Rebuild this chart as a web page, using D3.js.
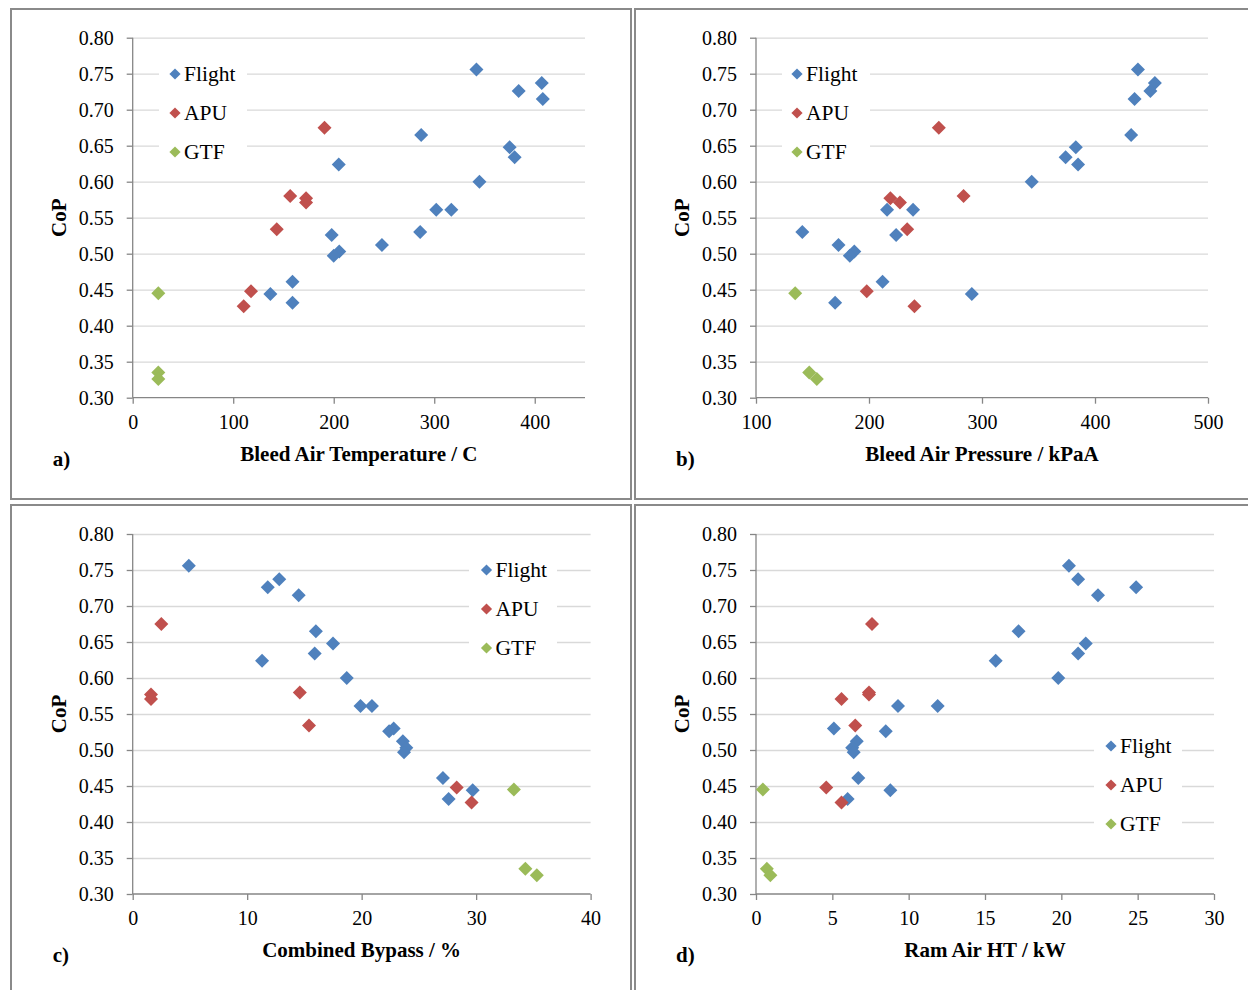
<!DOCTYPE html>
<html>
<head>
<meta charset="utf-8">
<script src="https://cdn.jsdelivr.net/npm/d3@7/dist/d3.min.js"></script>
<style>
    body { margin: 0; background: #fff; }
    svg { display: block; font-family: "Liberation Serif", "Times New Roman", serif; }
    .grid line { stroke: #d9d9d9; stroke-width: 1.3; }
    .grid path { display: none; }
    .axis path, .axis line { stroke: #868686; stroke-width: 1.3; }
    .axis text { font-family: "Liberation Serif", "Times New Roman", serif; font-size: 20px; fill: #000; }
</style>
</head>
<body>
<div id="chart"></div>
<script>
/*global d3*/
(function () {
    "use strict";

    // series
    var seriesNames = ["Flight", "APU", "GTF"],
        seriesColors = ["#4f81bd", "#c0504d", "#9bbb59"];

    // CoP (shared y of every panel)
    var copFlight = [0.756, 0.737, 0.726, 0.715, 0.665, 0.648, 0.634, 0.624, 0.600, 0.561,
            0.561, 0.530, 0.526, 0.512, 0.503, 0.497, 0.461, 0.444, 0.432],
        copAPU = [0.675, 0.580, 0.577, 0.571, 0.534, 0.448, 0.427],
        copGTF = [0.445, 0.335, 0.326];

    // a) bleed air temperature / C
    var tempFlight = [342, 407, 384, 408, 287, 375, 380, 205, 345, 302,
            317, 286, 198, 248, 205.5, 200, 159, 137, 159],
        tempAPU = [190.8, 156.7, 172.5, 172.5, 143.3, 117.7, 110.4],
        tempGTF = [25.5, 25.5, 25.5];

    // b) bleed air pressure / kPaA
    var pressFlight = [438, 453, 449, 435, 432, 383, 374, 385, 344, 216,
            239, 141, 224, 173, 187, 183, 212, 291, 170],
        pressAPU = [261.8, 283.7, 218.9, 227.4, 233.8, 198, 240.2],
        pressGTF = [134.7, 147.1, 153.8];

    // c) combined bypass / %
    var bypassFlight = [4.9, 12.8, 11.8, 14.5, 16.0, 17.5, 15.9, 11.3, 18.7, 19.9,
            20.9, 22.8, 22.4, 23.6, 23.9, 23.7, 27.1, 29.7, 27.6],
        bypassAPU = [2.5, 14.6, 1.6, 1.6, 15.4, 28.3, 29.6],
        bypassGTF = [33.3, 34.3, 35.3];

    // d) ram air HT / kW
    var ramFlight = [20.5, 21.1, 24.9, 22.4, 17.2, 21.6, 21.1, 15.7, 19.8, 9.3,
            11.9, 5.1, 8.5, 6.6, 6.3, 6.4, 6.7, 8.8, 6.0],
        ramAPU = [7.6, 7.4, 7.4, 5.6, 6.5, 4.6, 5.6],
        ramGTF = [0.45, 0.71, 0.94];

    var yTicks = [0.30, 0.35, 0.40, 0.45, 0.50, 0.55, 0.60, 0.65, 0.70, 0.75, 0.80];

    var panels = [
        {label: "a)", title: "Bleed Air Temperature / C", xs: [tempFlight, tempAPU, tempGTF],
            domain: [0, 450], ticks: [0, 100, 200, 300, 400],
            box: [11, 9], x0: 132.7, x1: 585, y0: 37.7, legend: [159, 175, 74]},
        {label: "b)", title: "Bleed Air Pressure / kPaA", xs: [pressFlight, pressAPU, pressGTF],
            domain: [100, 500], ticks: [100, 200, 300, 400, 500],
            box: [635, 9], x0: 756, x1: 1208, y0: 37.7, legend: [782, 797, 74]},
        {label: "c)", title: "Combined Bypass / %", xs: [bypassFlight, bypassAPU, bypassGTF],
            domain: [0, 40], ticks: [0, 10, 20, 30, 40],
            box: [11, 505], x0: 132.7, x1: 590.6, y0: 534, legend: [469, 486.5, 570]},
        {label: "d)", title: "Ram Air HT / kW", xs: [ramFlight, ramAPU, ramGTF],
            domain: [0, 30], ticks: [0, 5, 10, 15, 20, 25, 30],
            box: [635, 505], x0: 756, x1: 1214, y0: 534, legend: [1094, 1111, 746]}
    ];
    var cops = [copFlight, copAPU, copGTF],
        plotH = 360;

    var svg = d3.select("#chart").append("svg")
        .attr("width", 1248)
        .attr("height", 990);

    var diamond = d3.symbol().type(d3.symbolDiamond2);

    panels.forEach(function (p) {
        var g, x, y, leg;

        svg.append("rect")
            .attr("x", p.box[0]).attr("y", p.box[1])
            .attr("width", 620).attr("height", 490)
            .attr("fill", "none")
            .attr("stroke", "#8a8a8a")
            .attr("stroke-width", 2);

        x = d3.scaleLinear().domain(p.domain).range([p.x0, p.x1]);
        y = d3.scaleLinear().domain([0.30, 0.80]).range([p.y0 + plotH, p.y0]);

        g = svg.append("g");

        // gridlines
        g.append("g").attr("class", "grid")
            .attr("transform", "translate(" + p.x0 + ",0)")
            .call(d3.axisLeft(y).tickValues(yTicks.slice(1)).tickSize(-(p.x1 - p.x0)).tickFormat(""));

        // y axis
        g.append("g").attr("class", "axis")
            .attr("transform", "translate(" + p.x0 + ",0)")
            .call(d3.axisLeft(y).tickValues(yTicks).tickSize(6).tickPadding(13)
                .tickFormat(d3.format(".2f")))
            .call(function (a) { a.select(".domain").attr("d", "M0," + (p.y0 + plotH) + "V" + p.y0); })
            .selectAll("text").attr("dy", "0.34em");

        // x axis
        g.append("g").attr("class", "axis")
            .attr("transform", "translate(0," + (p.y0 + plotH) + ")")
            .call(d3.axisBottom(x).tickValues(p.ticks).tickSize(6).tickPadding(11)
                .tickFormat(d3.format("d")))
            .call(function (a) { a.select(".domain").attr("d", "M" + p.x0 + ",0H" + p.x1); })
            .selectAll("text").attr("dy", "0.71em");

        // legend box over the gridlines
        leg = g.append("g");
        leg.append("rect")
            .attr("x", p.legend[0]).attr("y", p.legend[2] - 18)
            .attr("width", 88).attr("height", 114)
            .attr("fill", "#fff");
        seriesNames.forEach(function (name, i) {
            var ly = p.legend[2] + i * 39;
            leg.append("path")
                .attr("d", diamond.size(80)())
                .attr("transform", "translate(" + p.legend[1] + "," + ly + ")")
                .attr("fill", seriesColors[i]);
            leg.append("text")
                .attr("x", p.legend[1] + 9).attr("y", ly)
                .attr("dy", "0.34em")
                .style("font-size", "21.5px")
                .text(name);
        });

        // points
        p.xs.forEach(function (xsArr, si) {
            g.append("g").selectAll("path")
                .data(xsArr.map(function (v, i) { return [v, cops[si][i]]; }))
                .enter().append("path")
                .attr("d", diamond.size(125)())
                .attr("transform", function (d) {
                    return "translate(" + x(d[0]) + "," + y(d[1]) + ")";
                })
                .attr("fill", seriesColors[si]);
        });

        // titles
        g.append("text")
            .attr("x", (p.x0 + p.x1) / 2).attr("y", p.y0 + 423)
            .attr("text-anchor", "middle")
            .style("font-size", "21px").style("font-weight", "bold")
            .text(p.title);
        g.append("text")
            .attr("transform", "translate(" + (p.x0 - 67) + "," + (p.y0 + plotH / 2) + ") rotate(-90)")
            .attr("text-anchor", "middle")
            .style("font-size", "21px").style("font-weight", "bold")
            .text("CoP");
        g.append("text")
            .attr("x", p.x0 - 80).attr("y", p.y0 + 428)
            .style("font-size", "21px").style("font-weight", "bold")
            .text(p.label);
    });
}());
</script>
</body>
</html>
